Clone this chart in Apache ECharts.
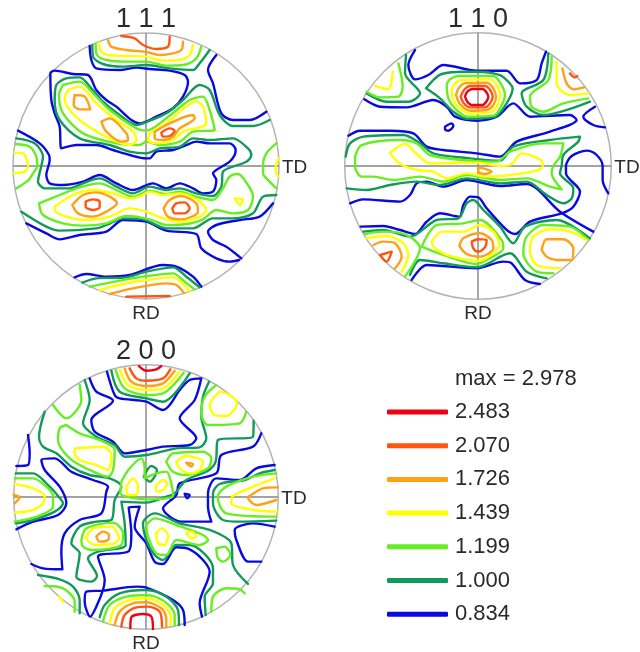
<!DOCTYPE html>
<html><head><meta charset="utf-8">
<style>html,body{margin:0;padding:0;background:#fff}#c{width:640px;height:652px}</style>
<script src="https://cdn.jsdelivr.net/npm/echarts@6/dist/echarts.min.js"></script>
</head><body><div id="c"></div>
<script>
// Contour levels, highest first
const levels = ['2.483','2.070','1.726','1.439','1.199','1.000','0.834'];
const maxLabel = 'max = 2.978';
const loop = a => a.concat(a.slice(0, 2));
// Contours in disc units: x toward TD, y away from RD, rim at about 399

// ---- 1 1 1 ----
const a111_2070 = [
 [-74,390,-34,383,-9,363,31,351,66,358,71,388],
 loop([-181,-107,-159,-100,-139,-107,-139,-124,-159,-132,-181,-122]),
 loop([79,-127,91,-112,116,-109,131,-127,116,-142,86,-142]),
 loop([46,100,71,113,86,106,71,90,51,88]),
 [-59,-392,71,-390]
];
const a111_1726 = [
 [-114,378,-104,358,-59,348,-4,343,41,333,81,338,106,348,111,373],
 loop([-214,213,-184,208,-167,170,-199,170,-217,183]),
 loop([-134,133,-109,143,-59,98,-54,78,-74,73,-119,103]),
 loop([26,103,71,128,141,153,146,143,101,113,81,88,51,78,26,83]),
 loop([-221,-117,-189,-87,-149,-79,-109,-92,-87,-112,-119,-137,-159,-152,-204,-142]),
 loop([53,-127,71,-102,106,-90,151,-112,156,-137,106,-160,66,-152]),
 [-109,-384,-39,-367,61,-352,91,-357,113,-380]
];
const a111_1439 = [
 [-141,370,-134,343,-114,333,-59,330,1,328,51,316,101,318,131,333,141,363],
 loop([-234,228,-199,238,-149,188,-89,138,-39,103,-29,78,-49,63,-99,78,-179,123,-229,168,-244,203]),
 loop([11,98,61,128,151,193,171,178,181,128,111,103,81,78,31,68,6,78]),
 [-394,40,-369,38,-359,23,-354,0,-364,-17,-397,-22],
 [399,23,389,0,389,-12,396,-32],
 loop([266,-97,291,-100,283,-117]),
 loop([-274,-122,-219,-87,-159,-72,-99,-82,-49,-97,-19,-92,11,-77,51,-87,101,-82,151,-100,181,-132,161,-152,101,-167,51,-157,1,-137,-49,-127,-109,-152,-179,-162,-239,-152,-274,-132]),
 [-139,-372,-69,-354,1,-342,81,-334,131,-377]
];
const a111_1199 = [
 [-151,366,-147,333,-119,318,-59,313,1,313,61,301,111,303,151,323,166,358],
 loop([-249,243,-199,253,-159,218,-109,168,-29,113,1,106,61,143,131,198,171,208,191,168,206,108,141,103,101,73,41,63,1,73,-19,63,-89,68,-189,98,-249,158,-261,213]),
 [-391,66,-349,58,-329,28,-326,0,-339,-22,-354,-44,-389,-67],
 [391,68,361,38,351,0,351,-22,371,-47,391,-67],
 loop([-321,-112,-259,-87,-199,-64,-139,-52,-89,-72,-39,-92,11,-74,61,-84,101,-77,151,-92,201,-102,231,-67,251,-32,276,-24,306,-57,321,-92,306,-132,261,-142,211,-132,171,-160,121,-174,61,-177,11,-160,-59,-150,-119,-172,-189,-179,-249,-172,-309,-147]),
 [-169,-362,-109,-350,-9,-332,81,-322,116,-347,146,-370]
];
const a111_1000 = [
 [-161,363,-159,328,-129,306,-69,298,1,303,71,293,141,288,161,308,191,348],
 [-389,83,-334,68,-309,28,-314,0,-324,-47,-304,-67,-229,-67,-189,-52,-139,-37,-89,-62,-39,-82,11,-62,61,-72,101,-67,151,-82,201,-90,226,-62,231,-17,301,13,316,33,306,53,261,83,191,78,141,83,101,58,41,53,1,38,-49,43,-109,63,-199,83,-259,138,-274,198,-269,243,-239,263,-199,266,-164,233,-129,193,-79,153,-29,123,11,136,61,158,111,198,161,243,191,228,221,153,261,120,321,120,371,138],
 [-374,-137,-299,-182,-259,-194,-149,-187,-119,-177,-69,-157,-9,-160,61,-187,141,-187,201,-157,261,-157,321,-142,351,-92,391,-87],
 [-191,-350,-149,-337,-59,-334,1,-317,81,-304,121,-332,161,-364]
];
const a111_0834 = [
 [-169,360,-164,318,-149,293,-79,288,-29,295,11,291,71,286,116,273,126,253,111,208,81,173,31,148,-19,128,-44,138,-89,178,-119,198,-149,228,-174,273,-219,276,-274,286,-287,278,-284,198,-274,158,-259,118,-254,53,-209,63,-149,63,-99,48,-49,33,1,23,11,23,31,43,81,48,121,63,151,73,191,68,251,68,269,48,266,33,251,13,211,-12,201,-22,211,-42,201,-77,171,-82,141,-67,101,-52,61,-67,21,-52,-39,-72,-89,-52,-139,-27,-189,-47,-249,-57,-289,-52,-299,-27,-289,18,-291,33,-319,68,-384,106],
 [211,333,186,288,201,248,226,158,261,138,311,138,361,163],
 [-359,-172,-299,-202,-259,-220,-199,-207,-119,-197,-69,-162,1,-167,61,-194,151,-204,166,-247,211,-277,251,-287,279,-282],
 [381,-112,341,-152,281,-162,211,-177,186,-197,201,-222,241,-242,286,-277],
 [-214,-334,-179,-324,-119,-332,-49,-327,51,-297,91,-302,141,-332,166,-362]
];

// ---- 1 1 0 ----
const b110_2483 = [ loop([-39,208,-32,223,-16,231,14,231,26,220,31,208,26,195,14,183,-19,183,-32,193]) ];
const b110_2070 = [
 loop([-52,208,-42,228,-24,240,21,240,38,226,44,208,36,188,21,176,-24,176,-44,190]),
 [276,278,291,266,298,270],
 loop([-19,-227,1,-220,26,-222,21,-244,1,-257,-14,-247]),
 loop([-294,-267,-259,-257,-274,-287])
];
const b110_1726 = [
 loop([-66,213,-56,236,-36,249,26,250,46,233,54,208,46,183,26,168,-24,166,-54,186]),
 [253,293,266,248,286,230,318,236],
 loop([1,-4,26,-10,41,-17,21,-24,1,-17]),
 loop([-56,-240,-44,-217,6,-202,41,-222,46,-247,6,-272,-34,-264]),
 [-314,-237,-284,-227,-249,-232,-229,-272,-249,-307],
 loop([191,-252,206,-220,256,-220,286,-247,281,-282,236,-282,206,-272])
];
const b110_1439 = [
 loop([-79,228,-69,248,-49,258,36,260,56,243,66,213,56,178,36,161,-24,158,-69,188]),
 [-256,283,-269,230,-309,240],
 [236,313,236,248,276,213,331,218],
 loop([-264,40,-219,66,-184,36,-144,8,1,10,66,0,101,6,131,38,191,16,194,0,176,-14,96,-27,26,-32,-34,-22,-94,-37,-134,-17,-184,-12,-239,10]),
 loop([-139,-227,-109,-197,-44,-197,6,-177,46,-197,64,-237,26,-277,-4,-284,-94,-267,-134,-242]),
 [-334,-217,-274,-210,-224,-232,-209,-267,-229,-317],
 [246,-307,176,-297,156,-252,166,-212,216,-190,276,-197,326,-222]
];
const b110_1199 = [
 loop([-94,246,-84,260,-59,270,46,270,68,248,81,213,66,173,46,151,-29,148,-64,168,-89,203]),
 [-239,308,-226,238,-239,208,-294,206,-334,223],
 [221,328,211,258,156,208,161,178,196,163,256,188,331,203],
 loop([-369,28,-349,63,-234,78,-184,68,-144,33,-24,16,56,13,96,43,196,68,256,68,246,28,226,0,221,-22,251,-70,216,-62,146,-37,66,-42,-34,-27,-104,-47,-174,-32,-254,-42,-314,-32,-349,-32,-369,-2]),
 loop([-169,-242,-124,-177,-44,-172,6,-162,71,-222,76,-247,26,-282,-4,-294,-104,-267]),
 [-219,-332,-174,-247,-214,-207,-284,-197,-339,-204],
 [226,-322,176,-317,136,-262,146,-212,196,-177,276,-182,331,-222]
];
const b110_1000 = [
 loop([-156,233,-134,258,-109,276,-44,283,-4,283,66,273,91,253,104,233,86,188,51,148,-34,142,-74,163,-114,203]),
 [-216,333,-219,278,-174,218,-209,193,-274,193,-334,218],
 [211,338,196,258,131,218,146,178,196,153,336,193],
 [-397,28,-384,68,-344,88,-224,93,-174,68,-134,38,-24,23,66,16,106,58,216,78,306,88,301,73,256,33,251,0,246,-22,286,-67,281,-97,256,-112,206,-87,146,-47,66,-52,-34,-37,-114,-57,-184,-47,-264,-57,-334,-72,-394,-67],
 [-344,-197,-284,-192,-204,-212,-124,-162,-59,-157,-34,-112,-14,-102,16,-132,66,-182,106,-232,141,-182,236,-162,336,-217],
 [-204,-327,-174,-282,-104,-292,-4,-304,96,-262,146,-317,206,-337]
];
const b110_0834 = [
 [-189,348,-209,303,-189,260,-149,273,-104,303,-4,286,86,286,126,248,176,258,191,308,204,343],
 [-341,200,-294,178,-214,176,-134,198,-94,178,-69,148,-4,136,56,148,106,188,156,148,276,153,296,138,216,103,116,73,66,28,-4,38,-104,48,-154,58,-194,98,-264,106,-354,106,-389,91],
 loop([-99,118,-79,128,-74,120,-89,106,-99,110]),
 [351,178,316,148,346,123,381,116],
 [391,-82,374,-42,374,0,356,33,326,46,281,30,264,0,264,-22,306,-77,286,-122,251,-142,156,-167,111,-204,86,-192,26,-127,1,-94,-24,-92,-44,-117,-56,-152,-114,-142,-154,-167,-189,-204,-234,-192,-284,-180,-352,-182],
 [-384,-112,-344,-100,-234,-107,-204,-87,-184,-52,-154,-47,-104,-62,-34,-42,66,-60,146,-54,246,-137,346,-197],
 [-199,-342,-154,-297,-4,-307,76,-287,101,-292,141,-342,186,-354]
];

// ---- 2 0 0 ----
const c200_2483 = [
 [-21,393,1,379,31,383,46,393],
 [-47,-394,-44,-361,-9,-351,16,-359,21,-396]
];
const c200_2070 = [
 [-49,386,-29,356,1,349,51,356,73,383],
 [-74,-389,-64,-354,-29,-331,6,-329,41,-344,48,-389]
];
const c200_1726 = [
 [-64,386,-44,346,1,333,51,341,86,379],
 loop([121,103,141,99,136,91]),
 [396,29,351,26,311,3,306,-1,331,-24,391,-9],
 [-397,6,-379,-1,-394,-19],
 loop([-149,-119,-129,-104,-111,-114,-114,-129,-139,-134]),
 [-94,-384,-79,-344,-39,-319,1,-316,46,-334,61,-364,61,-389]
];
const c200_1439 = [
 [-79,383,-54,336,1,321,51,326,101,376],
 loop([221,316,191,276,206,246,241,243,273,281,251,306]),
 loop([-214,146,-129,151,-104,126,-114,81,-149,96,-199,111,-214,131]),
 loop([91,106,121,123,171,106,161,81,131,71,101,86]),
 loop([-59,31,-39,56,-24,31,-29,6,-54,6]),
 loop([29,31,51,51,64,41,51,21,33,16]),
 [386,56,321,31,261,3,256,-19,321,-39,396,-44],
 [-394,39,-339,26,-304,3,-309,-19,-339,-39,-394,-47],
 loop([-181,-124,-159,-94,-104,-89,-81,-124,-99,-141,-154,-144]),
 loop([31,-109,46,-94,66,-114,56,-144,36,-139]),
 loop([121,-107,136,-104,151,-119,136,-124]),
 [-261,-299,-249,-314],
 [-109,-379,-94,-334,-49,-309,1,-304,51,-324,76,-364,73,-384]
];
const c200_1199 = [
 [-91,381,-64,326,1,306,51,311,113,373],
 [-199,336,-194,291,-239,236,-279,276],
 loop([-239,216,-199,191,-139,171,-94,141,-99,81,-114,61,-169,81,-229,116,-264,171,-259,206]),
 [211,336,176,301,166,251,186,216,281,221,301,256],
 loop([61,106,81,131,171,136,196,116,186,86,121,66,81,76]),
 loop([-74,46,-49,86,-14,116,-4,86,-4,56,31,71,61,76,76,41,81,3,61,-4,1,-7,-59,1,-77,11]),
 [391,71,321,61,241,31,216,3,216,-4,241,-49,391,-59],
 [-394,56,-339,56,-299,31,-279,3,-279,-29,-329,-59,-394,-74],
 loop([-194,-129,-179,-94,-99,-77,-69,-109,-74,-144,-159,-159,-189,-149]),
 loop([1,-84,26,-64,91,-84,171,-114,186,-129,161,-144,91,-129,61,-174,31,-169,6,-119]),
 loop([211,-154,236,-149,253,-174,231,-194,216,-184]),
 [196,-344,201,-299,241,-274,281,-277,296,-289],
 [-304,-267,-249,-274,-214,-314,-214,-344],
 [-129,-374,-109,-324,-59,-299,1,-294,56,-314,86,-354,86,-384]
];
const c200_1000 = [
 [-104,379,-79,316,1,296,51,286,131,371],
 [-184,351,-169,291,-189,221,-149,181,-94,156,-64,121,1,126,91,146,161,149,181,176,166,241,171,301,189,346],
 [323,229,321,181,216,171,209,106,186,79,121,51,86,11,61,1,1,-17,-74,-14,-64,-79,-61,-144,-144,-164,-174,-184,-147,-237,-164,-254,-209,-239,-199,-169,-224,-139,-199,-89,-149,-74,-104,-69,-94,-9,-74,31,-109,56,-169,66,-224,91,-269,131,-309,151,-321,181,-304,256],
 loop([-7,61,16,93,33,81,11,46]),
 [386,81,341,71,296,51,221,39,201,11,201,-19,231,-69,281,-74,391,-71],
 [-391,71,-339,71,-289,31,-264,3,-249,-19,-274,-44,-339,-69,-391,-79],
 [306,-261,261,-204,256,-139,191,-99,101,-79,26,-49,-9,-79,1,-129,26,-174,51,-189,91,-144,131,-144,201,-214,201,-259,176,-299,179,-354],
 [-324,-234,-259,-247,-219,-269,-199,-309,-199,-349],
 [-139,-361,-124,-324,-79,-289,1,-279,61,-299,96,-339,99,-384]
];
const c200_0834 = [
 [-117,376,-94,306,-79,296,1,286,51,261,71,276,101,321,131,351,166,356,146,291,101,236,151,176,131,156,51,151,1,141,-64,131,-99,166,-154,196,-164,231,-99,289,-149,316,-169,356],
 [386,96,331,86,281,51,211,56,186,11,186,-29,196,-74,106,-74,51,-34,91,6,101,41,211,71,226,126,321,151,346,191],
 [-354,186,-349,131,-354,96,-389,93],
 [-389,-97,-339,-74,-264,-54,-239,-19,-259,31,-304,81,-314,111,-274,116,-224,76,-159,51,-114,31,-119,16,-134,-49,-199,-69,-244,-109,-254,-164,-251,-217,-309,-214,-344,-201],
 loop([116,9,131,6,124,-4]),
 [386,-89,321,-79,266,-99,271,-129,306,-194,346,-194],
 [168,-359,161,-319,191,-224,171,-189,131,-157,91,-151,51,-201,26,-194,1,-139,-34,-89,-19,-29,-52,-31,-44,-109,-51,-162,-144,-179,-124,-249,-129,-279,-149,-329,-167,-359,-184,-314,-179,-284,-129,-281,-29,-269,1,-272,81,-309,111,-339,116,-384]
];

const levelColors = {'2.483':'#f00014','2.070':'#ff5510','1.726':'#ffa015','1.439':'#ffff00','1.199':'#66ee22','1.000':'#129a5a','0.834':'#0a0ae0'};
const panels = [
 {title:'1 1 1', cx:146, cy:166, r:133, rim:399, sets:{'2.070':a111_2070,'1.726':a111_1726,'1.439':a111_1439,'1.199':a111_1199,'1.000':a111_1000,'0.834':a111_0834}},
 {title:'1 1 0', cx:478, cy:166, r:133.3, rim:400, sets:{'2.483':b110_2483,'2.070':b110_2070,'1.726':b110_1726,'1.439':b110_1439,'1.199':b110_1199,'1.000':b110_1000,'0.834':b110_0834}},
 {title:'2 0 0', cx:146, cy:497, r:132.3, rim:397, sets:{'2.483':c200_2483,'2.070':c200_2070,'1.726':c200_1726,'1.439':c200_1439,'1.199':c200_1199,'1.000':c200_1000,'0.834':c200_0834}}
];
const pairs = f => { const o=[]; for(let i=0;i<f.length;i+=2) o.push([f[i],f[i+1]]); return o; };
const FONT='"Liberation Sans",Arial,sans-serif';
const TEXT='#2a2a2a';
const grid=[],xAxis=[],yAxis=[],series=[],title=[];
panels.forEach((p,i)=>{
  grid.push({left:p.cx-p.r,top:p.cy-p.r,width:2*p.r,height:2*p.r,containLabel:false});
  const ax={gridIndex:i,type:'value',min:-p.rim,max:p.rim,show:false};
  xAxis.push(ax); yAxis.push({...ax});
  const base={xAxisIndex:i,yAxisIndex:i,animation:false,silent:true};
  const gray={color:'#858585',width:1.4};
  [[[-p.rim,0],[p.rim,0]],[[0,-p.rim],[0,p.rim]]].forEach(d=>series.push({...base,type:'line',data:d,showSymbol:false,symbol:'none',lineStyle:gray,z:1}));
  series.push({...base,type:'scatter',data:[[0,0]],symbol:'circle',symbolSize:2*p.r,itemStyle:{color:'rgba(0,0,0,0)',borderColor:'#a0a0a0',borderWidth:1.5},z:1});
  // drawn low level first so the inner levels stay on top
  levels.slice().reverse().forEach(lv=>{
    (p.sets[lv]||[]).forEach(f=>series.push({...base,name:lv,type:'line',data:pairs(f),showSymbol:false,symbol:'none',smooth:0.3,clip:false,
      color:levelColors[lv],itemStyle:{color:levelColors[lv]},lineStyle:{color:levelColors[lv],width:2.4,join:'round',cap:'round'},z:3}));
  });
  title.push({text:p.title,left:p.cx-5,top:p.cy-p.r-32,textAlign:'center',textStyle:{fontFamily:FONT,fontSize:27,fontWeight:'normal',color:TEXT}});
  title.push({text:'TD',left:p.cx+p.r-2,top:p.cy-13,textStyle:{fontFamily:FONT,fontSize:19,fontWeight:'normal',color:TEXT}});
  title.push({text:'RD',left:p.cx-5,top:p.cy+p.r,textAlign:'center',textStyle:{fontFamily:FONT,fontSize:19,fontWeight:'normal',color:TEXT}});
});
title.push({text:maxLabel,left:450,top:363,textStyle:{fontFamily:FONT,fontSize:22,fontWeight:'normal',color:TEXT}});
const chart=echarts.init(document.getElementById('c'),null,{renderer:'canvas'});
chart.setOption({
  animation:false,backgroundColor:'#fff',title,grid,xAxis,yAxis,series,
  tooltip:{show:false},
  legend:{data:levels.map(name=>({name,icon:'roundRect'})),orient:'vertical',left:382,top:396,itemWidth:61,itemHeight:5,itemGap:11.7,selectedMode:false,
    textStyle:{fontFamily:FONT,fontSize:22,color:TEXT,lineHeight:22,height:22,padding:[0,0,0,2]}}
});
</script></body></html>
